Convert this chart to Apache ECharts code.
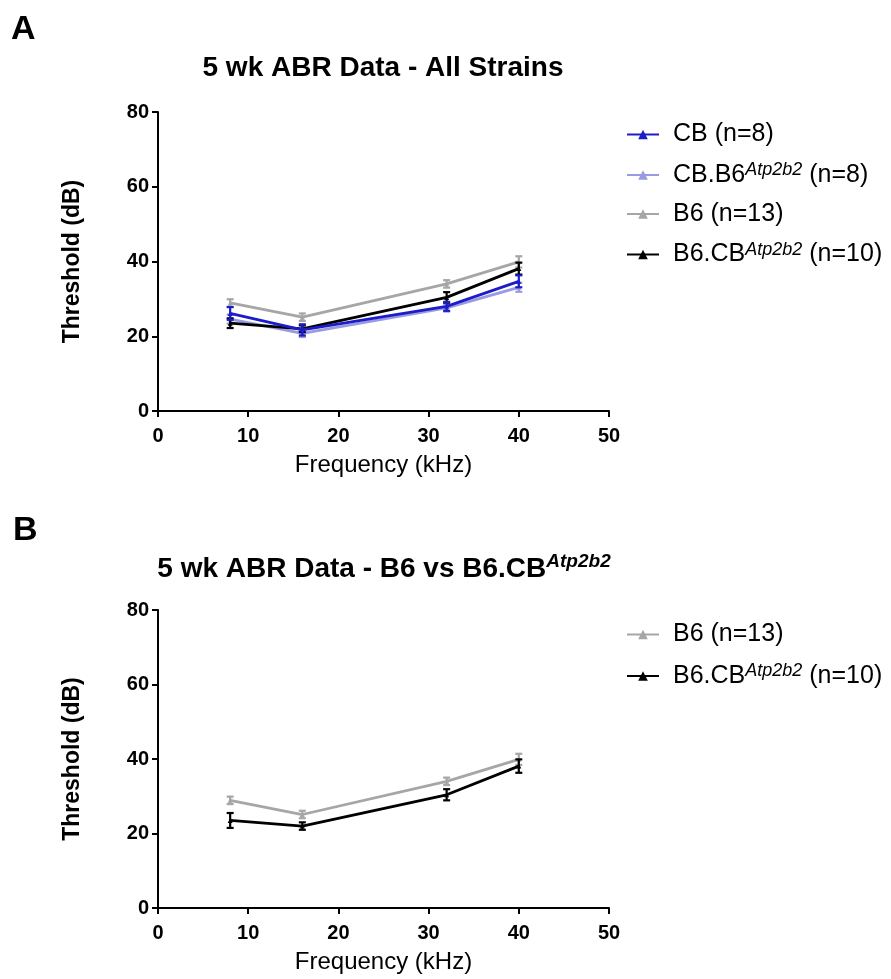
<!DOCTYPE html>
<html>
<head>
<meta charset="utf-8">
<script src="https://cdn.jsdelivr.net/npm/echarts@6/dist/echarts.min.js"></script>
<style>html,body{margin:0;padding:0;background:#fff}#c{width:891px;height:979px}</style>
</head>
<body>
<div id="c"></div>
<script>
// ---- data ----
const freqs = [8, 16, 32, 40];
const xTicks = [0, 10, 20, 30, 40, 50];
const yTicks = [0, 20, 40, 60, 80];

const cbMean   = [26.1, 21.7, 28.0, 34.7];
const cbErr    = [1.7, 1.5, 1.2, 1.6];
const cbb6Mean = [24.6, 20.8, 27.6, 33.1];
const cbb6Err  = [1.2, 1.0, 1.0, 1.2];
const b6Mean   = [28.9, 25.1, 34.0, 39.9];
const b6Err    = [1.0, 1.0, 1.0, 1.5];
const b6cbMean = [23.5, 22.0, 30.4, 38.1];
const b6cbErr  = [1.3, 0.9, 1.4, 1.6];
const b6cbErrB = [2.0, 1.0, 1.5, 1.8];

const names = ['CB (n=8)', 'CB.B6 Atp2b2 (n=8)', 'B6 (n=13)', 'B6.CB Atp2b2 (n=10)'];
const legendRich = {
  'CB (n=8)': '{g| }{n|CB (n=8)}',
  'CB.B6 Atp2b2 (n=8)': '{g| }{n|CB.B6}{s|Atp2b2}{n| (n=8)}',
  'B6 (n=13)': '{g| }{n|B6 (n=13)}',
  'B6.CB Atp2b2 (n=10)': '{g| }{n|B6.CB}{s|Atp2b2}{n| (n=10)}'
};
const colors = ['#1c1cc8', '#9a9ae2', '#a6a6a6', '#000000'];

const FONT = 'Liberation Sans, Arial, sans-serif';

function pts(mean) { return freqs.map((f, i) => [f, mean[i]]); }
function errData(mean, err) { return freqs.map((f, i) => [f, mean[i] - err[i], mean[i] + err[i]]); }

function lineSeries(idx, name, mean, color, z) {
  return {
    type: 'line', name: name, xAxisIndex: idx, yAxisIndex: idx,
    data: pts(mean), symbol: 'triangle', symbolSize: 5,
    lineStyle: { color: color, width: 2.8 }, itemStyle: { color: color },
    z: z, animation: false
  };
}
function errSeries(idx, mean, err, color, z) {
  return {
    type: 'custom', xAxisIndex: idx, yAxisIndex: idx, z: z, animation: false,
    silent: true,
    data: errData(mean, err),
    renderItem: function (params, api) {
      const lo = api.coord([api.value(0), api.value(1)]);
      const hi = api.coord([api.value(0), api.value(2)]);
      const w = 3.5;
      const st = { stroke: color, lineWidth: 2.2 };
      return { type: 'group', children: [
        { type: 'line', shape: { x1: lo[0], y1: lo[1], x2: hi[0], y2: hi[1] }, style: st },
        { type: 'line', shape: { x1: lo[0] - w, y1: lo[1], x2: lo[0] + w, y2: lo[1] }, style: st },
        { type: 'line', shape: { x1: hi[0] - w, y1: hi[1], x2: hi[0] + w, y2: hi[1] }, style: st }
      ]};
    }
  };
}

function xAxis(idx) {
  return {
    type: 'value', gridIndex: idx, min: 0, max: 50, interval: 10,
    name: 'Frequency (kHz)', nameLocation: 'middle', nameGap: 42,
    nameTextStyle: { fontFamily: FONT, fontSize: 24, color: '#000' },
    axisLine: { show: true, onZero: false, lineStyle: { color: '#000', width: 2 } },
    axisTick: { show: true, length: 6, lineStyle: { color: '#000', width: 2 } },
    axisLabel: { fontFamily: FONT, fontSize: 20, fontWeight: 'bold', color: '#000', margin: 15 },
    splitLine: { show: false }
  };
}
function yAxis(idx) {
  return {
    type: 'value', gridIndex: idx, min: 0, max: 80, interval: 20,
    name: 'Threshold (dB)', nameLocation: 'middle', nameGap: 74,
    nameTextStyle: { fontFamily: FONT, fontSize: 23, fontWeight: 'bold', color: '#000' },
    axisLine: { show: true, lineStyle: { color: '#000', width: 2 } },
    axisTick: { show: true, length: 6, lineStyle: { color: '#000', width: 2 } },
    axisLabel: { fontFamily: FONT, fontSize: 20, fontWeight: 'bold', color: '#000', margin: 9 },
    splitLine: { show: false }
  };
}

const legendText = {
  fontFamily: FONT, color: '#000',
  rich: {
    g: { width: 9, fontSize: 10, lineHeight: 28 },
    n: { fontFamily: FONT, fontSize: 25, color: '#000', lineHeight: 28 },
    s: { fontFamily: FONT, fontSize: 18, fontStyle: 'italic', color: '#000', verticalAlign: 'top', lineHeight: 14 }
  }
};

const chart = echarts.init(document.getElementById('c'), null, { renderer: 'canvas' });
chart.setOption({
  backgroundColor: '#fff',
  animation: false,
  title: [
    { text: 'A', left: 11, top: 13, padding: 0, textStyle: { fontFamily: FONT, fontSize: 34, fontWeight: 'bold', color: '#000' } },
    { text: '5 wk ABR Data - All Strains', left: 383, top: 54, padding: 0, textAlign: 'center',
      textStyle: { fontFamily: FONT, fontSize: 28, fontWeight: 'bold', color: '#000' } },
    { text: 'B', left: 13, top: 514, padding: 0, textStyle: { fontFamily: FONT, fontSize: 34, fontWeight: 'bold', color: '#000' } },
    { text: '{b|5 wk ABR Data - B6 vs B6.CB}{s|Atp2b2}', left: 384, top: 552, padding: 0, textAlign: 'center',
      textStyle: { fontFamily: FONT, color: '#000',
        rich: {
          b: { fontFamily: FONT, fontSize: 28, fontWeight: 'bold', color: '#000', lineHeight: 34 },
          s: { fontFamily: FONT, fontSize: 19, fontWeight: 'bold', fontStyle: 'italic', color: '#000', verticalAlign: 'top', lineHeight: 18 }
        } } }
  ],
  legend: [
    { data: names, left: 621, top: 117, orient: 'vertical', itemWidth: 32, itemHeight: 12, itemGap: 14,
      formatter: n => legendRich[n], textStyle: legendText, selectedMode: false },
    { data: [names[2], names[3]], left: 621, top: 617, orient: 'vertical', itemWidth: 32, itemHeight: 12, itemGap: 15,
      formatter: n => legendRich[n], textStyle: legendText, selectedMode: false }
  ],
  grid: [
    { left: 158, top: 112, width: 451, height: 299 },
    { left: 158, top: 610, width: 451, height: 298 }
  ],
  xAxis: [xAxis(0), xAxis(1)],
  yAxis: [yAxis(0), yAxis(1)],
  series: [
    errSeries(0, cbb6Mean, cbb6Err, colors[1], 2),
    lineSeries(0, names[1], cbb6Mean, colors[1], 3),
    errSeries(0, b6Mean, b6Err, colors[2], 2),
    lineSeries(0, names[2], b6Mean, colors[2], 3),
    errSeries(0, b6cbMean, b6cbErr, colors[3], 4),
    lineSeries(0, names[3], b6cbMean, colors[3], 5),
    errSeries(0, cbMean, cbErr, colors[0], 6),
    lineSeries(0, names[0], cbMean, colors[0], 7),
    errSeries(1, b6Mean, b6Err, colors[2], 2),
    lineSeries(1, names[2], b6Mean, colors[2], 3),
    errSeries(1, b6cbMean, b6cbErrB, colors[3], 4),
    lineSeries(1, names[3], b6cbMean, colors[3], 5)
  ]
});
</script>
</body>
</html>
